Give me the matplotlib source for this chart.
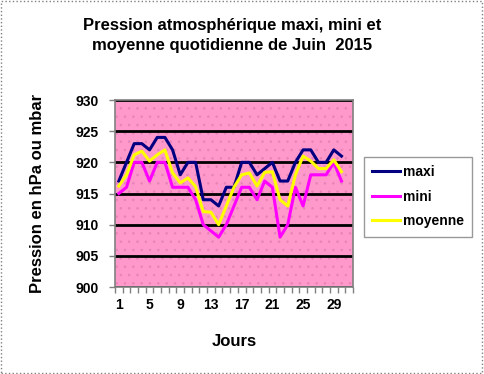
import numpy as np
import matplotlib.pyplot as plt
from matplotlib.patches import Rectangle

plt.rcParams['font.family'] = ['Liberation Sans', 'DejaVu Sans']
plt.rcParams['hatch.linewidth'] = 0.6

# Daily values for June 2015 (31 categories, last one empty)
jours = np.arange(1, 32)
maxi = [917, 920, 923, 923, 922, 924, 924, 922, 918, 920,
        920, 914, 914, 913, 916, 916, 920, 920, 918, 919,
        920, 917, 917, 920, 922, 922, 920, 920, 922, 921, np.nan]
mini = [915, 916, 920, 920, 917, 920, 920, 916, 916, 916,
        914, 910, 909, 908, 910, 913, 916, 916, 914, 917,
        916, 908, 910, 916, 913, 918, 918, 918, 920, 917, np.nan]
moyenne = [916.2, 918, 921.2, 921.8, 920.2, 921.2, 922, 918.3, 916.7, 917.5,
           916.1, 912.1, 912, 910, 913, 916, 918, 918.3, 916.2, 918.4,
           918.5, 914, 913, 918, 921, 920.2, 919, 919, 920.4, 918.5, np.nan]
jour_labels = [1, 5, 9, 13, 17, 21, 25, 29]

fig = plt.figure(figsize=(4.84, 3.74), dpi=100)
ax = fig.add_axes([0.2376, 0.2326, 0.4917, 0.5])

# pink dotted background
ax.set_facecolor('#FF99CC')
ax.add_patch(Rectangle((0, 0), 1, 1, transform=ax.transAxes, facecolor='none',
                       edgecolor='#E684B8', hatch='..', linewidth=0, zorder=0))

ax.plot(jours, maxi, color='#000080', linewidth=2.2, label='maxi', zorder=3)
ax.plot(jours, mini, color='#FF00FF', linewidth=2.2, label='mini', zorder=3)
ax.plot(jours, moyenne, color='#FFFF00', linewidth=2.2, label='moyenne', zorder=3)

ax.set_xlim(0.5, 31.5)
ax.set_ylim(900, 930)
ax.set_yticks(np.arange(900, 931, 5))
ax.yaxis.grid(True, color='black', linewidth=2)
ax.set_axisbelow(True)

# ticks between categories, labels on category centres
ax.set_xticks(np.arange(0.5, 32, 1))
ax.set_xticklabels([])
ax.set_xticks(jour_labels, minor=True)
ax.set_xticklabels([str(j) for j in jour_labels], minor=True)
ax.tick_params(axis='x', which='minor', length=0, pad=8)
ax.tick_params(axis='x', which='major', length=4, width=1, color='gray')
ax.tick_params(axis='y', length=4, width=1, color='gray', pad=8)
for lab in ax.get_xticklabels(minor=True) + ax.get_yticklabels():
    lab.set_fontsize(10)
    lab.set_fontweight('bold')

for sp in ax.spines.values():
    sp.set_color('gray')
    sp.set_linewidth(1.2)

ax.set_xlabel('Jours', fontsize=12, fontweight='bold', labelpad=16)
ax.set_ylabel('Pression en hPa ou mbar', fontsize=12, fontweight='bold', labelpad=22)
fig.text(0.48, 0.905, 'Pression atmosphérique maxi, mini et\nmoyenne quotidienne de Juin  2015',
         ha='center', va='center', fontsize=12, fontweight='bold', linespacing=1.35)

leg = ax.legend(loc='upper left', bbox_to_anchor=(364 / 484, 1 - 157 / 374),
                bbox_transform=fig.transFigure, frameon=True, fancybox=False,
                borderaxespad=0, prop={'weight': 'bold', 'size': 10},
                handlelength=2.0, handletextpad=0.2, labelspacing=0.75,
                borderpad=0.6)
leg.get_frame().set_edgecolor('gray')
leg.get_frame().set_linewidth(1)

# dotted border around the whole chart
fig.add_artist(Rectangle((0.002, 0.003), 0.994, 0.994, transform=fig.transFigure,
                         fill=False, edgecolor='gray', linestyle=':', linewidth=1))

fig.savefig('out.png', dpi=100)
